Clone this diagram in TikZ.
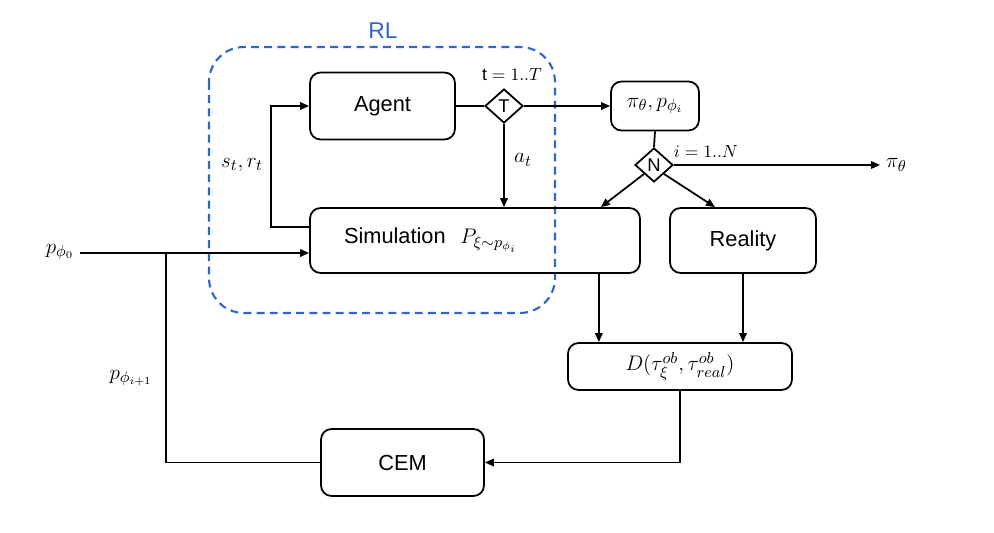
\documentclass[tikz,border=0pt]{standalone}
\usepackage{fontspec}
\setmainfont{Liberation Sans}
\usepackage{amsmath}
\usepackage{tikz}
\usetikzlibrary{shapes.geometric, arrows.meta, positioning, calc}
\definecolor{rlblue}{RGB}{47, 103, 200}

\tikzset{
  block/.style={draw, line width=1pt, rounded corners=6pt, inner sep=0pt, font=\fontsize{12.4}{14}\selectfont},
  gate/.style={draw, diamond, line width=1pt, inner sep=0pt, minimum width=0.76cm, minimum height=0.68cm, font=\fontsize{10.5}{12}\selectfont},
  mathlabel/.style={font=\fontsize{13}{15}\selectfont},
  looplabel/.style={font=\fontsize{10}{12}\selectfont},
  flow/.style={line width=1pt, -{Triangle[length=1.8mm, width=1.5mm]}},
  plain/.style={line width=1pt}
}

\begin{document}
\begin{tikzpicture}
  \useasboundingbox (0,0) rectangle (19.88,-10.66);

  % RL region
  \draw[rlblue, line width=1.2pt, dash pattern=on 4.5pt off 3pt, rounded corners=0.7cm] (4.18,-0.94) rectangle (11.1,-6.26);
  \node[text=rlblue, font=\fontsize{13}{15}\selectfont] (rl) at (7.66,-0.62) {RL};

  % Blocks
  \node[block, minimum width=2.9cm, minimum height=1.34cm] (agent) at (7.65,-2.12) {Agent};
  \node[gate] (tgate) at (10.08,-2.12) {T};
  \node[block, minimum width=1.76cm, minimum height=0.98cm] (policy) at (13.1,-2.12) {$\pi_{\theta},p_{\phi_i}$};
  \node[gate] (ngate) at (13.08,-3.3) {N};
  \node[block, minimum width=6.6cm, minimum height=1.3cm, text width=5.24cm, inner xsep=0.68cm, align=left] (sim) at (9.5,-4.81) {Simulation\ \ $P_{\xi\sim p_{\phi_i}}$};
  \node[block, minimum width=2.92cm, minimum height=1.3cm] (real) at (14.86,-4.81) {Reality};
  \node[block, minimum width=4.48cm, minimum height=0.94cm, font=\fontsize{13}{15}\selectfont] (dist) at (13.6,-7.33) {$D(\tau_{\xi}^{ob},\tau_{real}^{ob})$};
  \node[block, minimum width=3.26cm, minimum height=1.34cm] (cem) at (8.05,-9.25) {CEM};

  % Labels
  \node[mathlabel] (pzero) at (1.2,-5.04) {$p_{\phi_0}$};
  \node[mathlabel] (pnext) at (2.62,-7.56) {$p_{\phi_{i+1}}$};
  \node[mathlabel] (state) at (4.84,-3.3) {$s_t,r_t$};
  \node[mathlabel] (act) at (10.46,-3.2) {$a_t$};
  \node[looplabel] (tloop) at (10.24,-1.5) {$\mathrm{t}=1..T$};
  \node[looplabel] (iloop) at (14.12,-3.04) {$i=1..N$};
  \node[mathlabel, anchor=west] (pith) at (17.6,-3.3) {$\pi_\theta$};
  \coordinate (join) at (3.32,-5.06);
  \coordinate (simout) at ($(sim.south east)+(-0.84,0)$);

  % Connectors
  \draw[plain] (agent.east) -- (tgate.west);
  \draw[flow] (tgate.east) -- (policy.west);
  \draw[flow] (tgate.south) -- (tgate.south |- sim.north);
  \draw[plain] (policy.south) -- (ngate.north);
  \draw[flow] (ngate.east) -- (pith.west);
  \draw[flow] (ngate.south west) -- ($(sim.north east)+(-0.8,0)$);
  \draw[flow] (ngate.south east) -- ($(real.north)+(-0.56,0)$);
  \draw[flow] ($(sim.west)+(0,0.27)$) -- ++(-0.76,0) |- (agent.west);
  \draw[flow] (join -| pzero.east) -- (join -| sim.west);
  \draw[flow] (simout) -- (simout |- dist.north);
  \draw[flow] (real.south) -- (real.south |- dist.north);
  \draw[flow] (dist.south) |- (cem.east);
  \draw[plain] (cem.west) -| (join);
\end{tikzpicture}
\end{document}
